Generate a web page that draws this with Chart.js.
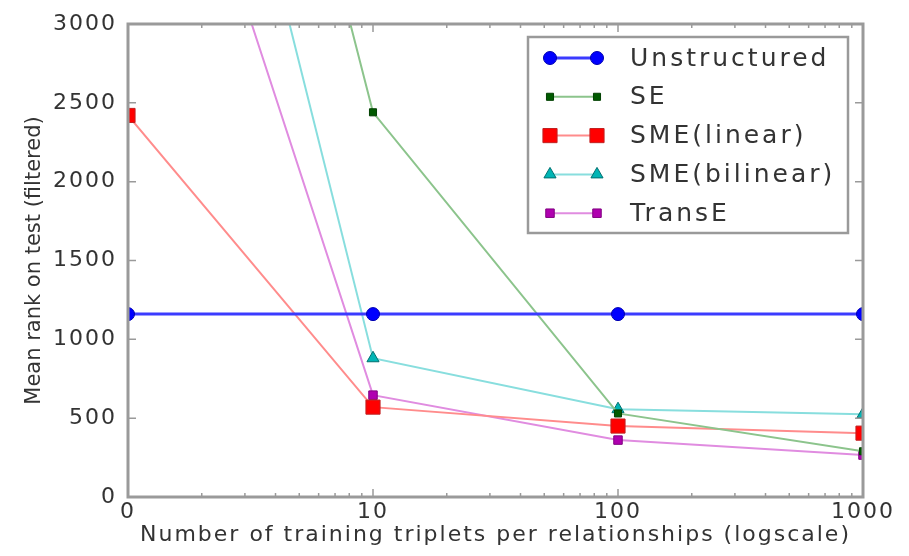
<!DOCTYPE html>
<html><head><meta charset="utf-8">
<script src="https://cdn.jsdelivr.net/npm/chart.js@4.4.1/dist/chart.umd.min.js"></script>
<style>html,body{margin:0;padding:0;background:#fff;}#wrap{width:909px;height:556px;}</style>
</head><body><div id="wrap"><canvas id="c" width="909" height="556"></canvas></div>
<script>
// ---- data ----
const categories = ['0', '10', '100', '1000'];
const xValues = [1, 10, 100, 1000];
const unstructured = [1160, 1160, 1160, 1160];
const se = [8500, 2440, 530, 290];
const smeLinear = [2420, 570, 450, 405];
const smeBilinear = [7100, 880, 557, 525];
const transE = [5400, 646, 361, 266];
const yTicks = [0, 500, 1000, 1500, 2000, 2500, 3000];
const seriesNames = ['Unstructured', 'SE', 'SME(linear)', 'SME(bilinear)', 'TransE'];

const FONT = 'DejaVu Sans';
const TEXT = '#333';
const FRAME = '#9a9a9a';

function pts(arr) { return arr.map((v, i) => ({ x: xValues[i], y: v })); }

const styles = [
  { line: '#3b3bff', w: 3, shape: 'circle', r: 6.5, fill: '#0000ff', edge: '#0000b0' },
  { line: '#8cc48c', w: 2, shape: 'rect', r: 5, fill: '#005a00', edge: '#004000' },
  { line: '#ff8c8c', w: 2, shape: 'rect', r: 10, fill: '#ff0000', edge: '#c02020' },
  { line: '#88dede', w: 2, shape: 'triangle', r: 7, fill: '#00b5b5', edge: '#007070' },
  { line: '#e08ce0', w: 2, shape: 'rect', r: 6, fill: '#b000b0', edge: '#800080' }
];
const seriesData = [unstructured, se, smeLinear, smeBilinear, transE];

const datasets = seriesData.map((arr, i) => ({
  label: seriesNames[i],
  data: pts(arr),
  borderColor: styles[i].line,
  borderWidth: styles[i].w,
  pointStyle: styles[i].shape,
  pointRadius: styles[i].r,
  pointHoverRadius: styles[i].r,
  pointBackgroundColor: styles[i].fill,
  pointBorderColor: styles[i].edge,
  pointBorderWidth: 1,
  tension: 0,
  clip: 0
}));

function drawMarker(ctx, st, x, y) {
  ctx.save();
  ctx.fillStyle = st.fill; ctx.strokeStyle = st.edge; ctx.lineWidth = 1;
  ctx.beginPath();
  if (st.shape === 'circle') {
    ctx.arc(x, y, st.r, 0, Math.PI * 2);
  } else if (st.shape === 'rect') {
    const s = Math.SQRT1_2 * st.r;
    ctx.rect(x - s, y - s, 2 * s, 2 * s);
  } else {
    const r = st.r;
    ctx.moveTo(x, y - r);
    ctx.lineTo(x + r * 0.866, y + r * 0.5);
    ctx.lineTo(x - r * 0.866, y + r * 0.5);
    ctx.closePath();
  }
  ctx.fill(); ctx.stroke();
  ctx.restore();
}

const framePlugin = {
  id: 'frame',
  beforeDraw(chart) { chart.ctx.letterSpacing = '2px'; },
  afterLayout(chart) {
    const ys = chart.scales.y;
    if (ys && !ys._patchedTitle) {
      const orig = ys.drawTitle;
      ys.drawTitle = function () {
        const c = this.ctx; c.save(); c.letterSpacing = '0px'; orig.call(this); c.restore();
      };
      ys._patchedTitle = true;
    }
  },
  afterDatasetsDraw(chart) {
    const { ctx, chartArea: a, scales } = chart;
    ctx.save();
    ctx.strokeStyle = FRAME;
    ctx.lineWidth = 1.5;
    yTicks.forEach(v => {
      const y = scales.y.getPixelForValue(v);
      ctx.beginPath();
      ctx.moveTo(a.left, y); ctx.lineTo(a.left + 8, y);
      ctx.moveTo(a.right, y); ctx.lineTo(a.right - 8, y);
      ctx.stroke();
    });
    xValues.forEach((v, i) => {
      const x = scales.x.getPixelForValue(v);
      ctx.beginPath();
      ctx.moveTo(x, a.bottom); ctx.lineTo(x, a.bottom - 8);
      ctx.moveTo(x, a.top); ctx.lineTo(x, a.top + 8);
      ctx.stroke();
      if (i < xValues.length - 1) {
        for (let k = 2; k <= 9; k++) {
          const xm = scales.x.getPixelForValue(v * k);
          ctx.beginPath();
          ctx.moveTo(xm, a.bottom); ctx.lineTo(xm, a.bottom - 4);
          ctx.moveTo(xm, a.top); ctx.lineTo(xm, a.top + 4);
          ctx.stroke();
        }
      }
    });
    ctx.lineWidth = 3;
    ctx.strokeRect(a.left, a.top, a.right - a.left, a.bottom - a.top);
    ctx.restore();
  },
  afterDraw(chart) {
    const { ctx, chartArea: a } = chart;
    const right = a.right - 15, top = a.top + 13, w = 320, h = 196;
    const left = right - w;
    ctx.save();
    ctx.fillStyle = '#fff';
    ctx.fillRect(left, top, w, h);
    ctx.strokeStyle = FRAME; ctx.lineWidth = 2.5;
    ctx.strokeRect(left, top, w, h);
    ctx.font = '25px "' + FONT + '"';
    ctx.letterSpacing = '3px';
    ctx.textBaseline = 'middle';
    ctx.textAlign = 'left';
    chart.data.datasets.forEach((ds, i) => {
      const y = top + 21 + i * 38.8;
      const st = styles[i];
      const x1 = left + 22, x2 = left + 69;
      ctx.strokeStyle = st.line; ctx.lineWidth = st.w;
      ctx.beginPath(); ctx.moveTo(x1, y); ctx.lineTo(x2, y); ctx.stroke();
      drawMarker(ctx, st, x1, y);
      drawMarker(ctx, st, x2, y);
      ctx.fillStyle = TEXT;
      ctx.fillText(ds.label, left + 102, y + 1);
    });
    ctx.restore();
  }
};

new Chart(document.getElementById('c'), {
  type: 'line',
  data: { datasets },
  plugins: [framePlugin],
  options: {
    responsive: false,
    devicePixelRatio: 1,
    animation: false,
    layout: { padding: { top: 24, right: 46, left: 0, bottom: 0 } },
    plugins: { legend: { display: false }, tooltip: { enabled: false } },
    scales: {
      x: {
        type: 'logarithmic',
        min: 1, max: 1000,
        grid: { display: false },
        border: { display: false },
        afterBuildTicks: s => { s.ticks = xValues.map(v => ({ value: v })); },
        afterFit: s => { s.height = 59; },
        ticks: {
          autoSkip: false, maxRotation: 0, padding: -6,
          color: TEXT, font: { family: FONT, size: 22 },
          callback: v => { const i = xValues.indexOf(v); return i >= 0 ? categories[i] : ''; }
        },
        title: {
          display: true, text: 'Number of training triplets per relationships (logscale)',
          color: TEXT, font: { family: FONT, size: 22 }, padding: { top: 0, bottom: 8 }
        }
      },
      y: {
        min: 0, max: 3000,
        grid: { display: false },
        border: { display: false },
        afterBuildTicks: s => { s.ticks = yTicks.map(v => ({ value: v })); },
        afterFit: s => { s.width = 128; },
        ticks: { padding: 3, color: TEXT, font: { family: FONT, size: 22 }, callback: v => String(v) },
        title: {
          display: true, text: 'Mean rank on test (filtered)',
          color: TEXT, font: { family: FONT, size: 21 }, padding: { top: 22, bottom: 0 }
        }
      }
    }
  }
});
</script></body></html>
